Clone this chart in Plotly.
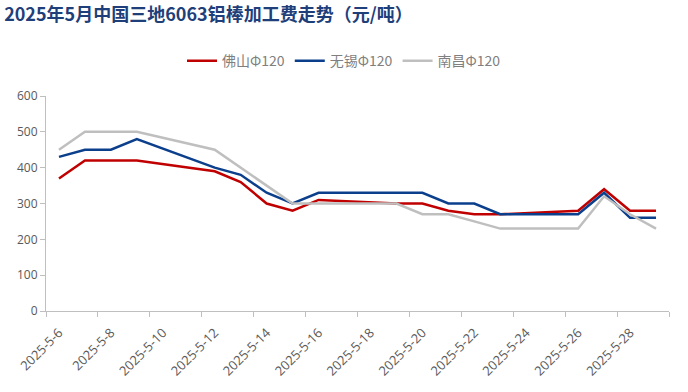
import plotly.graph_objects as go

dates = ["2025-05-06", "2025-05-07", "2025-05-08", "2025-05-09",
         "2025-05-12", "2025-05-13", "2025-05-14", "2025-05-15", "2025-05-16",
         "2025-05-19", "2025-05-20", "2025-05-21", "2025-05-22", "2025-05-23",
         "2025-05-26", "2025-05-27", "2025-05-28", "2025-05-29"]
foshan = [370, 420, 420, 420, 390, 360, 300, 280, 310, 300, 300, 280, 270, 270, 280, 340, 280, 280]
wuxi = [430, 450, 450, 480, 400, 380, 330, 300, 330, 330, 330, 300, 300, 270, 270, 330, 260, 260]
nanchang = [450, 500, 500, 500, 450, 400, 350, 300, 300, 300, 270, 270, 250, 230, 230, 320, 270, 230]
series_names = ["佛山Φ120", "无锡Φ120", "南昌Φ120"]
colors = ["#C00000", "#0B3F8C", "#BFBFBF"]
tick_vals = ["2025-05-06", "2025-05-08", "2025-05-10", "2025-05-12", "2025-05-14", "2025-05-16",
             "2025-05-18", "2025-05-20", "2025-05-22", "2025-05-24", "2025-05-26", "2025-05-28"]
tick_text = ["2025-5-6", "2025-5-8", "2025-5-10", "2025-5-12", "2025-5-14", "2025-5-16",
             "2025-5-18", "2025-5-20", "2025-5-22", "2025-5-24", "2025-5-26", "2025-5-28"]

fig = go.Figure()
for name, vals, c in zip(series_names, [foshan, wuxi, nanchang], colors):
    fig.add_trace(go.Scatter(x=dates, y=vals, name=name, mode="lines",
                             line=dict(color=c, width=2.5)))

font_cn = "Noto Sans CJK SC"
fig.update_layout(
    width=688, height=392,
    margin=dict(l=46, r=19, t=96, b=81),
    paper_bgcolor="white", plot_bgcolor="white",
    title=dict(text="<b>2025年5月中国三地6063铝棒加工费走势（元/吨）</b>",
               font=dict(family=font_cn, size=18, color="#1F3F7A"),
               x=0.006, xanchor="left", y=0.962, yanchor="middle"),
    legend=dict(orientation="h", xref="container", yref="container",
                x=0.5, xanchor="center", y=0.844, yanchor="middle",
                font=dict(family=font_cn, size=14, color="#7F7F7F"),
                itemwidth=30, traceorder="normal"),
    xaxis=dict(type="date", range=["2025-05-05 12:00", "2025-05-29 12:00"],
               tickvals=tick_vals, ticktext=tick_text, tickangle=-45, automargin=False,
               ticks="", showgrid=False, showline=True, linecolor="#BFBFBF", linewidth=1,
               ticklabelstandoff=8,
               tickfont=dict(family="Open Sans", size=13, color="#595959"),
               minor=dict(ticks="outside", tick0="2025-05-05 12:00", dtick=2 * 86400000,
                          ticklen=5, tickcolor="#BFBFBF", showgrid=False),
               zeroline=False),
    yaxis=dict(range=[0, 600], dtick=100, showgrid=False, showline=True, automargin=False,
               linecolor="#BFBFBF", linewidth=1, ticks="outside", ticklen=5,
               tickcolor="#BFBFBF", zeroline=False,
               tickfont=dict(family="Open Sans", size=12, color="#595959")),
)
fig.write_html("out.html", config={"displayModeBar": False},
               post_script="document.body.style.margin='0';")
